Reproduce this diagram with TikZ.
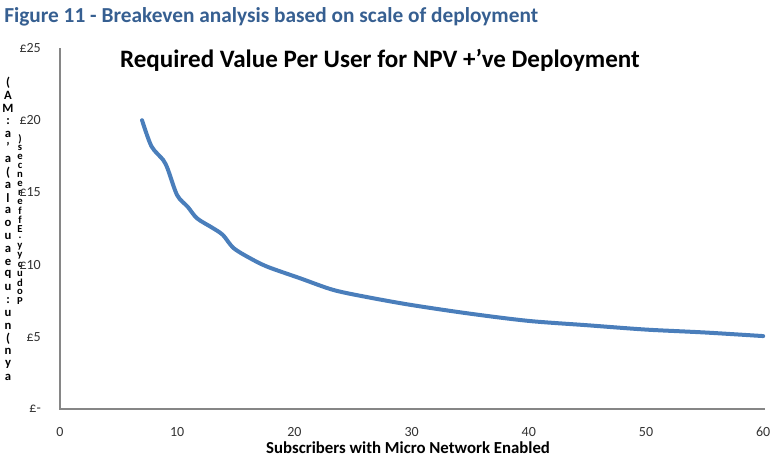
\documentclass[tikz,border=0pt]{standalone}
\usepackage{fontspec}
\setmainfont{Carlito}
\definecolor{capblue}{RGB}{54,95,145}
\definecolor{axisgrey}{RGB}{134,134,134}
\definecolor{curveblue}{RGB}{74,126,187}
\begin{document}
\begin{tikzpicture}[x=0.75pt,y=-0.75pt,
  tick label/.style={font=\fontsize{10.5}{11}\selectfont,text=black!80,inner sep=1pt},
  axis line/.style={draw=axisgrey,line width=1.6pt},
  stack letter/.style={font=\bfseries\fontsize{9.5}{9.5}\selectfont,inner sep=0pt}]
\useasboundingbox (0,0) rectangle (775,457);
% caption and chart title
\node [anchor=base west,inner sep=0pt,text=capblue,font=\bfseries\fontsize{16}{18}\selectfont](caption) at (4,22) {Figure 11 - Breakeven analysis based on scale of deployment};
\node [anchor=base,inner sep=0pt,font=\bfseries\fontsize{18.8}{21}\selectfont](title) at (380,67) {Required Value Per User for NPV +'ve Deployment};
% axes
\coordinate (ytop) at (60,48);
\coordinate (orig) at (60,409);
\coordinate (xend) at (765,409);
\draw [axis line] (ytop) -- (orig) -- (xend);
% stacked y axis title
\foreach \ch [count=\i] in {{(},{A},{M},{:},{a},{'},{a},{(},{a},{l},{a},{o},{u},{a},{e},{q},{u},{:},{u},{n},{(},{n},{y},{a}}
  \node [stack letter] (ya\i) at (8,70+12.8*\i) {\ch};
\foreach \ch [count=\i] in {{)},{s},{e},{c},{n},{e},{r},{e},{f},{f},{E},{.},{y},{y},{c},{u},{d},{o},{P}}
  \node [stack letter,font=\bfseries\fontsize{8}{8}\selectfont] (yb\i) at (20,130+9*\i) {\ch};
% data part
\begin{scope}[shift={(60,409)},x=8.79pt,y=10.83pt]
\foreach \v in {0,10,...,60}
  \node [tick label] (xt\v) at (\v,-1.6) {\v};
\foreach \v/\t in {0/£-,5/£5,10/£10,15/£15,20/£20,25/£25}
  \node [tick label,anchor=east] (yt\v) at (-1.5,\v) {\t};
\node [font=\bfseries\fontsize{12.6}{14}\selectfont] (xtitle) at (29.7,-2.65) {Subscribers with Micro Network Enabled};
\draw [curveblue,line width=3pt,line cap=round,line join=round] plot[smooth,tension=0.5] coordinates {
  (7,20) (7.8,18.2) (8.8,17.25) (9.2,16.6) (10,14.8) (10.9,14.0) (11.7,13.2)
  (13,12.55) (13.9,12.05) (14.8,11.15) (16.2,10.45) (17.7,9.85) (20.5,9.05)
  (23.3,8.25) (26.2,7.75) (30,7.2) (35,6.6) (40,6.1) (45,5.8) (50,5.5)
  (55,5.3) (60,5.05)};
\end{scope}
\end{tikzpicture}
\end{document}
